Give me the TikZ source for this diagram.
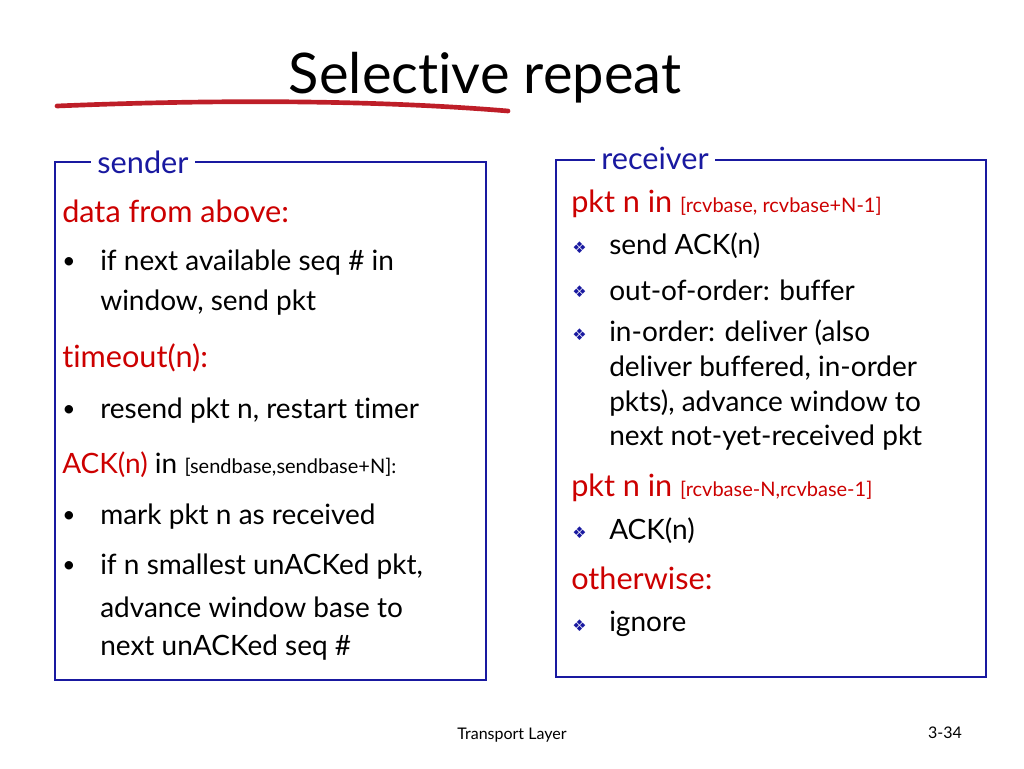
\documentclass[tikz,border=0pt]{standalone}
\usepackage{fontspec}
\setmainfont[Ligatures=NoCommon]{Lato}
\newfontfamily\symfont{DejaVu Sans}
\definecolor{slideblue}{RGB}{25,25,160}
\definecolor{slidered}{RGB}{204,0,0}
\definecolor{linered}{RGB}{190,30,40}
\tikzset{
  txt/.style={anchor=west, inner sep=0pt, font=\fontsize{21}{24}\selectfont},
  head/.style={txt, text=slidered, font=\fontsize{23}{26}\selectfont},
  frame/.style={draw=slideblue, line width=2pt},
  tag/.style={fill=white, text=slideblue, inner sep=5pt, font=\fontsize{23}{26}\selectfont},
  dot/.style={anchor=west, inner sep=0pt, font=\fontsize{17}{20}\selectfont},
  diam/.style={anchor=west, inner sep=0pt, text=slideblue, font=\symfont\fontsize{12}{14}\selectfont}
}
\newcommand{\brk}[1]{{\fontsize{15}{18}\selectfont #1}}
\begin{document}
\begin{tikzpicture}[x=0.75pt,y=-0.75pt]
\useasboundingbox (0,0) rectangle (1024,768);
% title
\node (title) at (485,78) {\fontsize{42}{48}\selectfont Selective repeat};
\draw[linered, line width=3.5pt, line cap=round] (57,106) .. controls (250,98) and (400,102) .. (508,111);
% sender box
\draw[frame] (55,162) rectangle (486,680);
\node[tag] (sender) at (143,162) {sender};
\node[head] (data) at (62,211) {data from above:};
\node[dot] (b1) at (62,263) {•};
\node[txt] (t1) at (100,263) {if next available seq \# in};
\node[txt] (t2) at (100,303) {window, send pkt};
\node[head] (tout) at (62,358) {timeout(n):};
\node[dot] (b2) at (62,411) {•};
\node[txt] (t3) at (100,411) {resend pkt n, restart timer};
\node[txt] (ack) at (62,465) {\textcolor{slidered}{ACK(n)} in \brk{[sendbase,sendbase+N]:}};
\node[dot] (b3) at (62,517) {•};
\node[txt] (t4) at (100,517) {mark pkt n as received};
\node[dot] (b4) at (62,567) {•};
\node[txt] (t5) at (100,567) {if n smallest unACKed pkt,};
\node[txt] (t6) at (100,607) {advance window base to};
\node[txt] (t7) at (100,648) {next unACKed seq \#};
% receiver box
\draw[frame] (556,160) rectangle (986,677);
\node[tag] (receiver) at (655,158) {receiver};
\node[head] (pin1) at (571,204) {pkt n in \brk{[rcvbase, rcvbase+N-1]}};
\node[diam] (d1) at (572,248) {❖};
\node[txt] (r1) at (609,246) {send ACK(n)};
\node[diam] (d2) at (572,292) {❖};
\node[txt] (r2) at (609,290) {out-of-order: buffer};
\node[diam] (d3) at (572,335) {❖};
\node[txt] (r3) at (609,333) {in-order: deliver (also};
\node[txt] (r4) at (609,368) {deliver buffered, in-order};
\node[txt] (r5) at (609,403) {pkts), advance window to};
\node[txt] (r6) at (609,438) {next not-yet-received pkt};
\node[head] (pin2) at (571,488) {pkt n in \brk{[rcvbase-N,rcvbase-1]}};
\node[diam] (d4) at (572,533) {❖};
\node[txt] (r7) at (609,531) {ACK(n)};
\node[head] (other) at (571,578) {otherwise:};
\node[diam] (d5) at (572,626) {❖};
\node[txt] (r8) at (609,624) {ignore};
% footer
\node[font=\fontsize{12}{14}\selectfont] (foot) at (512,735) {Transport Layer};
\node[font=\fontsize{12}{14}\selectfont] (page) at (945,733) {3-34};
\end{tikzpicture}
\end{document}
